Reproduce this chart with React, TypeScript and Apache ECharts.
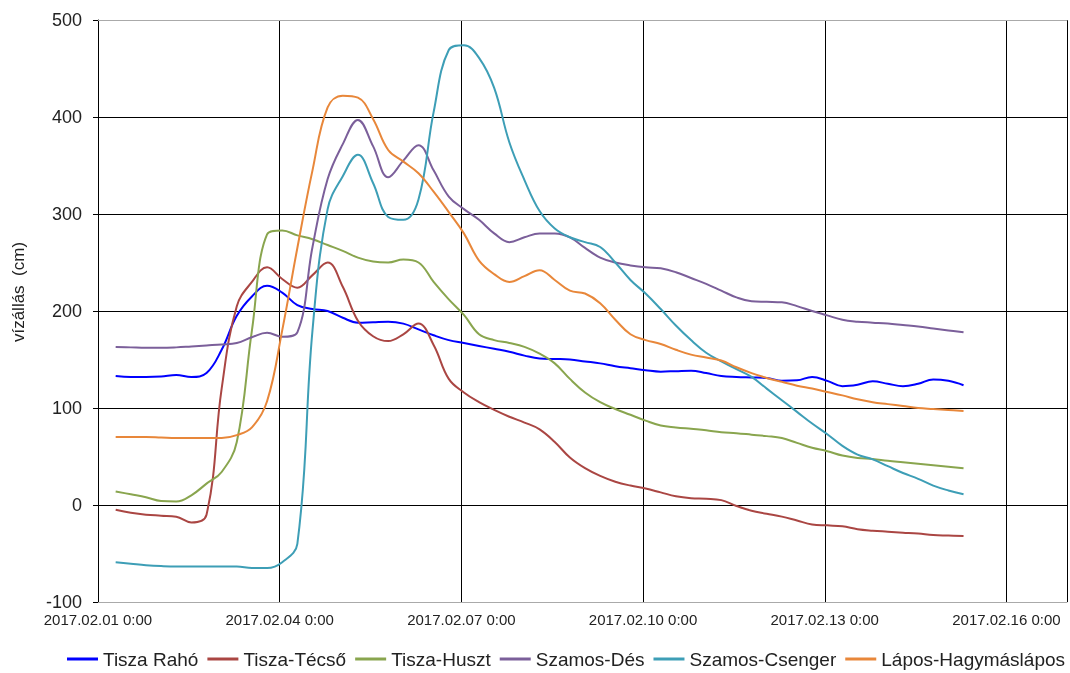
import React, { useEffect, useRef } from "react";
import * as echarts from "echarts";

// Readings every 6 hours, first reading 2017.02.01 7:00 (hours since 2017.02.01 0:00)
const FIRST_HOUR = 7;
const STEP_HOURS = 6;

const seriesNames = [
  "Tisza Rahó",
  "Tisza-Técső",
  "Tisza-Huszt",
  "Szamos-Dés",
  "Szamos-Csenger",
  "Lápos-Hagymáslápos",
];

const seriesColors = ["#0000ff", "#aa4643", "#89a54e", "#7b5f9a", "#3d9eb6", "#e8873a"];

const tiszaRaho = [
  133, 132, 132, 132.5, 134, 132, 136, 160, 195, 215, 226, 219, 206, 202, 200, 193, 188, 188.5, 189, 187,
  181, 175, 170, 167, 164, 161, 158, 154, 151, 150.5, 150, 148, 146, 143, 141, 139, 137.5, 138, 138.5, 136,
  133, 132, 131.5, 131, 128, 128.5, 132, 128, 122.5, 124, 127.5, 125, 122.5, 125, 129.5, 128, 123.5,
];

const tiszaTecso = [
  -5, -8, -10, -11, -12, -18, -10, 120, 205, 230, 245, 233, 224, 237, 250, 225, 190, 174, 169, 176,
  187, 165, 130, 116, 106, 98, 91, 85, 78, 65, 49, 38, 30, 24, 20, 17, 13, 9, 7, 6.5,
  5, -1, -6, -9, -12, -16, -20, -21, -22, -25, -26.5, -27.5, -28.5, -29.5, -31, -31.5, -32,
];

const tiszaHuszt = [
  14, 11, 8, 4, 3.5, 10, 22, 34, 65, 180, 279, 283, 278, 274, 268, 262, 255, 251, 250, 253,
  250, 230, 212, 196, 176, 170, 167, 163, 156, 146, 130, 116, 106, 99, 93, 87, 82, 80, 78.5, 77,
  75, 74, 72.5, 71, 69, 64, 59, 55.5, 51, 48.5, 47.5, 45.5, 44, 42.5, 41, 39.5, 38,
];

const szamosDes = [
  163, 162.5, 162, 162, 162.5, 163.5, 164.5, 165.5, 167, 173, 177.5, 173.5, 178, 266, 336, 372, 397, 370, 338, 355,
  371, 345, 318, 305, 294, 280, 271, 276, 280, 280, 276, 265, 255, 250, 247, 245, 244, 240, 234, 228,
  221, 214, 210, 209.5, 209, 205, 200, 195.5, 191, 189, 188, 187, 185.5, 184, 182, 180, 178,
];

const szamosCsenger = [
  -59, -60.5, -62, -63, -63.5, -63.5, -63.5, -63.5, -63.5, -65, -65, -59, -40, 180, 305, 339, 361, 332, 297, 294,
  315, 405, 469, 474, 461, 430, 374, 335, 303, 285, 276, 271, 266, 250, 232, 218, 202, 185, 170, 157,
  148, 140, 132, 120, 108, 96, 84, 73, 61, 52, 47, 40, 33, 27, 20, 15, 11,
];

const laposHagymaslapos = [
  70, 70, 70, 69.5, 69, 69, 69, 69, 72, 80, 107, 180, 265, 345, 410, 422, 420, 398, 366, 354,
  342, 323, 302, 280, 252, 238, 230, 236, 242, 232, 221, 218, 208, 191, 176, 170, 166, 160, 155, 152,
  149, 142, 136, 131, 127, 123, 120, 116.5, 113, 109, 106, 104, 102, 100, 99, 98, 97,
];

const allValues = [tiszaRaho, tiszaTecso, tiszaHuszt, szamosDes, szamosCsenger, laposHagymaslapos];

// x tick labels every 72 hours (3 days) from 2017.02.01 0:00
const xTickLabels = [
  "2017.02.01 0:00",
  "2017.02.04 0:00",
  "2017.02.07 0:00",
  "2017.02.10 0:00",
  "2017.02.13 0:00",
  "2017.02.16 0:00",
];
const X_TICK_HOURS = 72;
const X_MAX_HOURS = 384;

const Y_MIN = -100;
const Y_MAX = 500;
const Y_STEP = 100;

const FONT = "'Liberation Sans', Arial, sans-serif";

export default function App() {
  const ref = useRef<HTMLDivElement>(null);

  useEffect(() => {
    if (!ref.current) return;
    const chart = echarts.init(ref.current, undefined, { renderer: "svg" });

    const series = seriesNames.map((name, si) => ({
      name,
      type: "line",
      smooth: 0.4,
      showSymbol: false,
      symbol: "none",
      data: allValues[si].map((v, i) => [FIRST_HOUR + STEP_HOURS * i, v]),
      lineStyle: { width: 2, color: seriesColors[si] },
      itemStyle: { color: seriesColors[si] },
    }));

    chart.setOption({
      animation: false,
      textStyle: { fontFamily: FONT },
      grid: { left: 98, right: 0, top: 20, bottom: 71, containLabel: false },
      legend: {
        top: 649,
        left: 67,
        icon: "rect",
        itemWidth: 31,
        itemHeight: 3,
        itemGap: 9,
        padding: 0,
        textStyle: { fontFamily: FONT, fontSize: 19, lineHeight: 20, color: "#222" },
        data: seriesNames,
      },
      xAxis: [
        {
          type: "value",
          min: 0,
          max: X_MAX_HOURS,
          interval: X_TICK_HOURS,
          axisLine: { show: true, onZero: false, lineStyle: { color: "#aaaaaa", width: 1 } },
          axisTick: { show: false },
          axisLabel: {
            margin: 10,
            fontSize: 15,
            color: "#222",
            fontFamily: FONT,
            showMaxLabel: true,
            formatter: (v: number) => (v % X_TICK_HOURS === 0 ? xTickLabels[v / X_TICK_HOURS] ?? "" : ""),
          },
          splitLine: { show: true, lineStyle: { color: "#000", width: 1 } },
        },
        {
          type: "value",
          position: "top",
          min: 0,
          max: X_MAX_HOURS,
          axisLine: { show: true, onZero: false, lineStyle: { color: "#aaaaaa", width: 1 } },
          axisTick: { show: false },
          axisLabel: { show: false },
          splitLine: { show: false },
        },
      ],
      yAxis: {
        type: "value",
        min: Y_MIN,
        max: Y_MAX,
        interval: Y_STEP,
        axisLine: { show: true, lineStyle: { color: "#000", width: 1 } },
        axisTick: { show: true, length: 5, lineStyle: { color: "#000" } },
        axisLabel: { margin: 16, fontSize: 18, color: "#222", fontFamily: FONT },
        splitLine: {
          show: true,
          showMinLine: false,
          showMaxLine: false,
          lineStyle: { color: "#000", width: 1 },
        },
      },
      graphic: [
        {
          type: "text",
          x: 18,
          y: 292,
          rotation: Math.PI / 2,
          style: {
            text: "vízállás  (cm)",
            fontFamily: FONT,
            fontSize: 17,
            fill: "#222",
            align: "center",
            verticalAlign: "middle",
          },
        },
      ],
      series,
    });

    return () => chart.dispose();
  }, []);

  return (
    <div
      ref={ref}
      style={{ position: "fixed", left: 0, top: 0, width: 1070, height: 673 }}
    />
  );
}
